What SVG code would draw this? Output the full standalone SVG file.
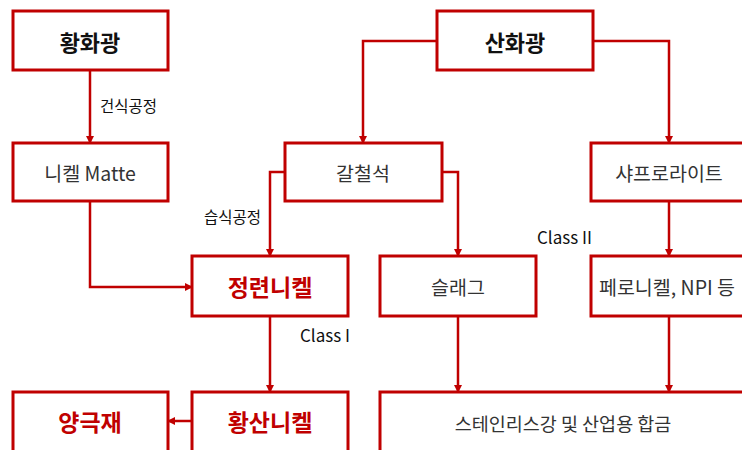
<svg xmlns="http://www.w3.org/2000/svg" width="742" height="450" viewBox="0 0 742 450">
<defs>
<style>
.box{fill:#fff;stroke:#C00000;stroke-width:3}
.ln{fill:none;stroke:#C00000;stroke-width:2.5}
.t{font-family:"Noto Sans CJK KR","Noto Sans",sans-serif;text-anchor:middle;dominant-baseline:central}
.big{font-size:22px;font-weight:bold;fill:#111}
.red{font-size:23px;font-weight:bold;fill:#C00000}
.reg{font-size:19.5px;fill:#333}
.lab{font-size:15.5px;fill:#111;font-family:"Noto Sans CJK KR","Noto Sans",sans-serif;dominant-baseline:central}
.cls{font-size:17px}
</style>
<marker id="ah" markerWidth="8" markerHeight="8" refX="7" refY="4" orient="auto" markerUnits="userSpaceOnUse">
<path d="M0,0 L8,4 L0,8 Z" fill="#C00000"/>
</marker>
</defs>
<rect width="742" height="450" fill="#fff"/>
<g id="connectors">
<path class="ln" d="M90,70 V143" marker-end="url(#ah)"/>
<path class="ln" d="M437,41 H363 V143" marker-end="url(#ah)"/>
<path class="ln" d="M593,41 H669 V143" marker-end="url(#ah)"/>
<path class="ln" d="M285,172 H270 V256" marker-end="url(#ah)"/>
<path class="ln" d="M442,172 H458 V256" marker-end="url(#ah)"/>
<path class="ln" d="M90,201 V287 H192" marker-end="url(#ah)"/>
<path class="ln" d="M669,201 V256" marker-end="url(#ah)"/>
<path class="ln" d="M270,316 V392" marker-end="url(#ah)"/>
<path class="ln" d="M458,316 V392" marker-end="url(#ah)"/>
<path class="ln" d="M669,316 V392" marker-end="url(#ah)"/>
<path class="ln" d="M192,421 H168" marker-end="url(#ah)"/>
<text class="lab" x="100" y="105">건식공정</text>
<text class="lab" x="204" y="216">습식공정</text>
<text class="lab cls" x="300" y="334">Class I</text>
<text class="lab cls" x="537" y="236">Class II</text>
</g>
<g id="n1"><rect class="box" x="13" y="11" width="155" height="59"/><text class="t big" x="90" y="41">황화광</text></g>
<g id="n2"><rect class="box" x="437" y="11" width="156" height="59"/><text class="t big" x="515" y="41">산화광</text></g>
<g id="n3"><rect class="box" x="13" y="143" width="155" height="58"/><text class="t reg" x="90" y="172">니켈 Matte</text></g>
<g id="n4"><rect class="box" x="285" y="143" width="157" height="58"/><text class="t reg" x="363" y="172">갈철석</text></g>
<g id="n5"><rect class="box" x="591" y="143" width="157" height="58"/><text class="t reg" x="669" y="172">샤프로라이트</text></g>
<g id="n6"><rect class="box" x="192" y="256" width="156" height="60"/><text class="t red" x="270" y="286">정련니켈</text></g>
<g id="n7"><rect class="box" x="380" y="256" width="156" height="60"/><text class="t reg" x="458" y="286">슬래그</text></g>
<g id="n8"><rect class="box" x="591" y="256" width="157" height="60"/><text class="t reg" x="667" y="286">페로니켈, NPI 등</text></g>
<g id="n9"><rect class="box" x="13" y="392" width="155" height="62"/><text class="t red" x="90" y="421">양극재</text></g>
<g id="n10"><rect class="box" x="192" y="392" width="156" height="62"/><text class="t red" x="270" y="421">황산니켈</text></g>
<g id="n11"><rect class="box" x="380" y="392" width="368" height="62"/><text class="t reg" x="563" y="423" style="font-size:18.5px">스테인리스강 및 산업용 합금</text></g>
</svg>
